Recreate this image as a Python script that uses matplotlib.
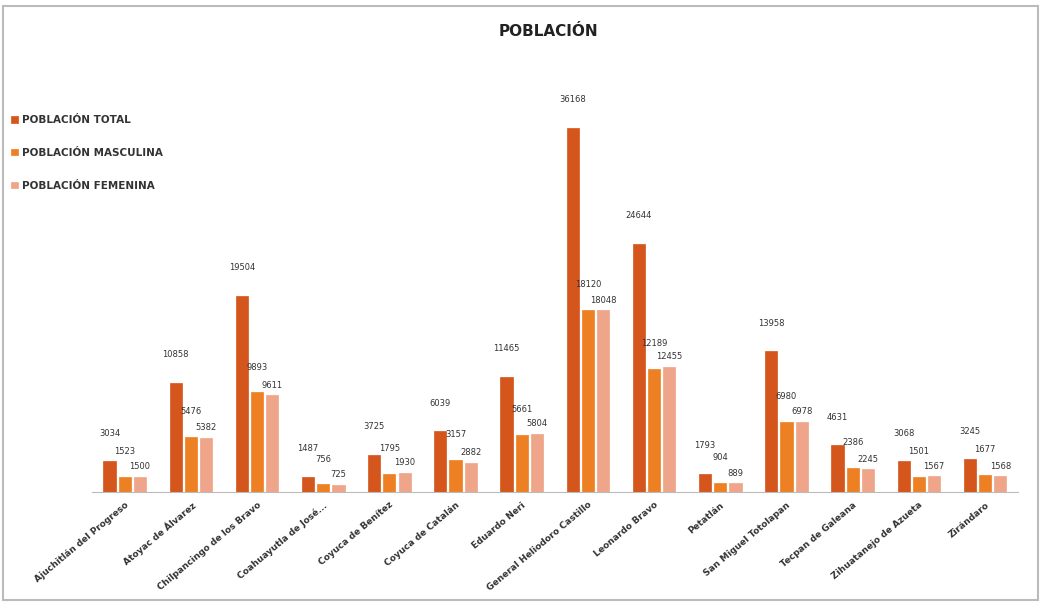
import numpy as np
import matplotlib.pyplot as plt
from matplotlib.patches import Rectangle

municipios = ['Ajuchitlán del Progreso', 'Atoyac de Álvarez', 'Chilpancingo de los Bravo',
              'Coahuayutla de José...', 'Coyuca de Benítez', 'Coyuca de Catalán',
              'Eduardo Neri', 'General Heliodoro Castillo', 'Leonardo Bravo', 'Petatlán',
              'San Miguel Totolapan', 'Tecpan de Galeana', 'Zihuatanejo de Azueta', 'Zirándaro']
total = [3034, 10858, 19504, 1487, 3725, 6039, 11465, 36168, 24644, 1793, 13958, 4631, 3068, 3245]
masculina = [1523, 5476, 9893, 756, 1795, 3157, 5661, 18120, 12189, 904, 6980, 2386, 1501, 1677]
femenina = [1500, 5382, 9611, 725, 1930, 2882, 5804, 18048, 12455, 889, 6978, 2245, 1567, 1568]

series = ['POBLACIÓN TOTAL', 'POBLACIÓN MASCULINA', 'POBLACIÓN FEMENINA']
colores = ['#D4561C', '#EE8024', '#EFA58A']
pads = [17, 15, 4]  # etiquetas escalonadas, como en el original

fig = plt.figure(figsize=(10.41, 6.03), dpi=100)
ax = fig.add_axes([0.088, 0.184, 0.89, 0.668])

x = np.arange(len(municipios))
w = 0.23
for i, (vals, nombre, col) in enumerate(zip([total, masculina, femenina], series, colores)):
    bars = ax.bar(x + (i - 1) * w, vals, width=w * 0.8, color=col, label=nombre,
                  edgecolor=col, linewidth=0.5)
    ax.bar_label(bars, padding=pads[i], fontsize=6, color='#333333')

ax.set_ylim(0, 40000)
ax.set_xlim(-0.5, len(municipios) - 0.5)
ax.set_yticks([])
ax.set_xticks(x)
ax.set_xticklabels(municipios, rotation=40, ha='right', rotation_mode='anchor',
                   fontsize=6.5, fontweight='bold', color='#333333')
ax.tick_params(axis='x', length=0, pad=6)
for s in ['top', 'right', 'left']:
    ax.spines[s].set_visible(False)
ax.spines['bottom'].set_color('#BBBBBB')

fig.text(0.527, 0.948, 'POBLACIÓN', ha='center', va='center', fontsize=11,
         fontweight='bold', color='#222222')

leg = fig.legend(loc='upper left', bbox_to_anchor=(0.002, 0.825), frameon=False,
                 fontsize=7.5, labelspacing=2.2, handlelength=0.6, handleheight=0.6,
                 handletextpad=0.4)
for t in leg.get_texts():
    t.set_fontweight('bold')
    t.set_color('#333333')

# marco del grafico
fig.patches.append(Rectangle((0.003, 0.005), 0.994, 0.985, transform=fig.transFigure,
                             fill=False, edgecolor='#BBBBBB', linewidth=1.5))

plt.savefig('out.png', dpi=100)
